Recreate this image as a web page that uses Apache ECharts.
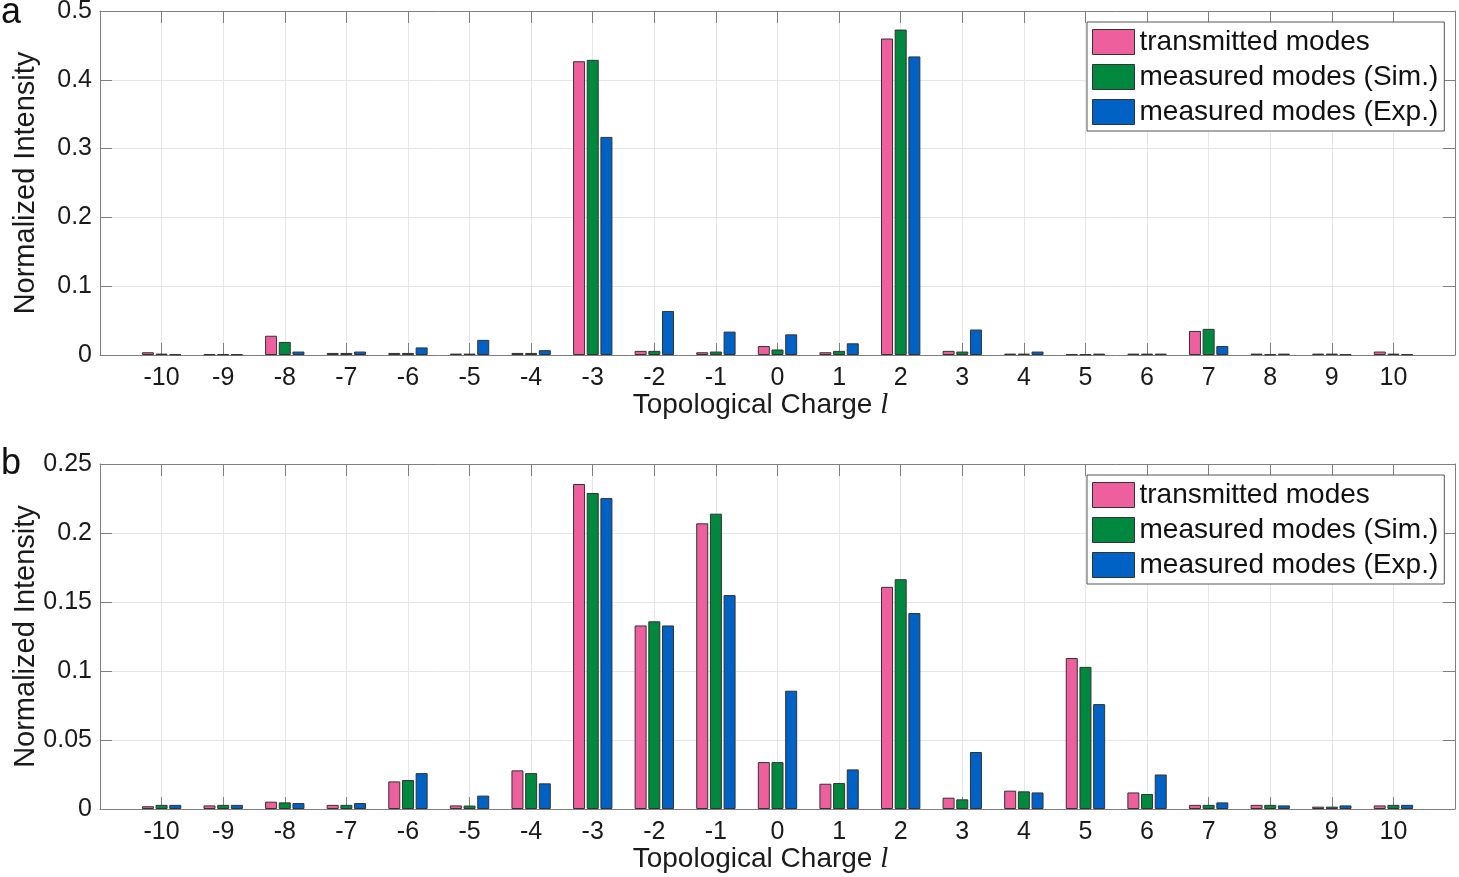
<!DOCTYPE html>
<html>
<head>
<meta charset="utf-8">
<script src="https://cdn.jsdelivr.net/npm/echarts@6/dist/echarts.min.js"></script>
<style>html,body{margin:0;padding:0;background:#fff;}#c{width:1459px;height:877px;}</style>
</head>
<body>
<div id="c"></div>
<script>
// ---- data ----
const charges = [-10,-9,-8,-7,-6,-5,-4,-3,-2,-1,0,1,2,3,4,5,6,7,8,9,10];
const seriesNames = ['transmitted modes', 'measured modes (Sim.)', 'measured modes (Exp.)'];

// panel a
const aTransmitted = [0.004,0.001,0.028,0.003,0.003,0.002,0.003,0.427,0.006,0.004,0.013,0.004,0.460,0.006,0.002,0.001,0.002,0.035,0.002,0.002,0.005];
const aSim         = [0.002,0.001,0.019,0.003,0.003,0.002,0.003,0.429,0.006,0.005,0.008,0.006,0.473,0.005,0.002,0.001,0.002,0.038,0.001,0.002,0.002];
const aExp         = [0.001,0.001,0.005,0.005,0.011,0.022,0.007,0.317,0.064,0.034,0.030,0.017,0.434,0.037,0.005,0.002,0.002,0.013,0.002,0.001,0.001];

// panel b
const bTransmitted = [0.002,0.0026,0.0053,0.003,0.020,0.0026,0.028,0.2355,0.133,0.207,0.034,0.0183,0.161,0.0082,0.0133,0.1094,0.012,0.003,0.003,0.0017,0.0026];
const bSim         = [0.003,0.003,0.0048,0.003,0.021,0.0025,0.026,0.229,0.136,0.214,0.034,0.0188,0.1665,0.007,0.0128,0.103,0.0109,0.003,0.003,0.0017,0.003];
const bExp         = [0.003,0.003,0.0043,0.0043,0.026,0.0097,0.0186,0.2253,0.133,0.155,0.0857,0.0287,0.142,0.0413,0.012,0.076,0.025,0.0048,0.0026,0.0026,0.003];

const aTicks = [0, 0.1, 0.2, 0.3, 0.4, 0.5];
const bTicks = [0, 0.05, 0.1, 0.15, 0.2, 0.25];

// ---- style ----
const FONT = 'Liberation Sans, Arial, Helvetica, sans-serif';
const colors = ['#EE5F9E', '#00893E', '#0062C4'];
const frameColor = '#7f7f7f';
const gridColor = '#e6e6e6';

function pairs(vals){ return charges.map((c,i)=>[c, vals[i]]); }

function bottomX(gi){
  return {
    type:'value', gridIndex:gi, min:-11, max:11, interval:1, position:'bottom',
    axisLine:{show:true, onZero:false, lineStyle:{color:frameColor, width:1}},
    axisTick:{show:true, inside:true, length:12, lineStyle:{color:frameColor}},
    axisLabel:{fontSize:25, color:'#1a1a1a', fontFamily:FONT, margin:11,
      formatter: v => (Math.abs(v) > 10 ? '' : String(v))},
    splitLine:{show:true, lineStyle:{color:gridColor, width:1}},
    name:'Topological Charge {i|l}', nameLocation:'middle', nameGap:36, nameMoveOverlap:false,
    nameTextStyle:{fontSize:28, color:'#1a1a1a', fontFamily:FONT, padding:[0,34,0,0],
      rich:{i:{fontSize:29, fontStyle:'italic', fontFamily:'Liberation Serif, Times New Roman, serif', color:'#1a1a1a'}}}
  };
}
function topX(gi){
  return {
    type:'value', gridIndex:gi, min:-11, max:11, interval:1, position:'top',
    axisLine:{show:true, onZero:false, lineStyle:{color:frameColor, width:1}},
    axisTick:{show:true, inside:true, length:12, lineStyle:{color:frameColor}},
    axisLabel:{show:false}, splitLine:{show:false}
  };
}
function leftY(gi, ticks){
  return {
    type:'value', gridIndex:gi, min:ticks[0], max:ticks[ticks.length-1], interval:ticks[1]-ticks[0], position:'left',
    axisLine:{show:true, onZero:false, lineStyle:{color:frameColor, width:1}},
    axisTick:{show:true, inside:true, length:12, lineStyle:{color:frameColor}},
    axisLabel:{fontSize:25, color:'#1a1a1a', fontFamily:FONT, margin:8,
      formatter: v => String(parseFloat(v.toFixed(3)))},
    splitLine:{show:true, lineStyle:{color:gridColor, width:1}},
    name:'Normalized Intensity', nameLocation:'middle', nameGap:60, nameMoveOverlap:false,
    nameTextStyle:{fontSize:29, color:'#1a1a1a', fontFamily:FONT}
  };
}
function rightY(gi, ticks){
  return {
    type:'value', gridIndex:gi, min:ticks[0], max:ticks[ticks.length-1], interval:ticks[1]-ticks[0], position:'right',
    axisLine:{show:true, onZero:false, lineStyle:{color:frameColor, width:1}},
    axisTick:{show:true, inside:true, length:12, lineStyle:{color:frameColor}},
    axisLabel:{show:false}, splitLine:{show:false}
  };
}
function barSeries(name, vals, ci, axisIdx){
  return {
    type:'bar', name:name, xAxisIndex:axisIdx, yAxisIndex:axisIdx,
    data: pairs(vals), barWidth:12, barGap:'14%',
    itemStyle:{color:colors[ci], borderColor:'#333', borderWidth:1},
    animation:false
  };
}
function legend(top){
  return {
    left:1087, top:top, orient:'vertical', icon:'rect',
    itemWidth:42, itemHeight:25, itemGap:7,
    padding:[6,6,5,5],
    backgroundColor:'#fff', borderColor:'#555', borderWidth:1,
    itemStyle:{borderColor:'#333', borderWidth:1},
    textStyle:{fontSize:28, color:'#111', fontFamily:FONT},
    data: seriesNames
  };
}

const chart = echarts.init(document.getElementById('c'), null, {renderer:'canvas'});
chart.setOption({
  animation:false,
  backgroundColor:'#fff',
  grid:[
    {left:100, right:4, top:11, height:344, outerBoundsMode:'none', containLabel:false},
    {left:100, right:4, top:464, height:345, outerBoundsMode:'none', containLabel:false}
  ],
  xAxis:[bottomX(0), topX(0), bottomX(1), topX(1)],
  yAxis:[leftY(0, aTicks), rightY(0, aTicks), leftY(1, bTicks), rightY(1, bTicks)],
  legend:[legend(22), legend(475)],
  series:[
    barSeries(seriesNames[0], aTransmitted, 0, 0),
    barSeries(seriesNames[1], aSim, 1, 0),
    barSeries(seriesNames[2], aExp, 2, 0),
    barSeries(seriesNames[0], bTransmitted, 0, 2),
    barSeries(seriesNames[1], bSim, 1, 2),
    barSeries(seriesNames[2], bExp, 2, 2)
  ],
  graphic:[
    {type:'text', left:1, top:-5, style:{text:'a', fontSize:36, fill:'#111', fontFamily:FONT}},
    {type:'text', left:1, top:446, style:{text:'b', fontSize:36, fill:'#111', fontFamily:FONT}}
  ]
});
</script>
</body>
</html>
